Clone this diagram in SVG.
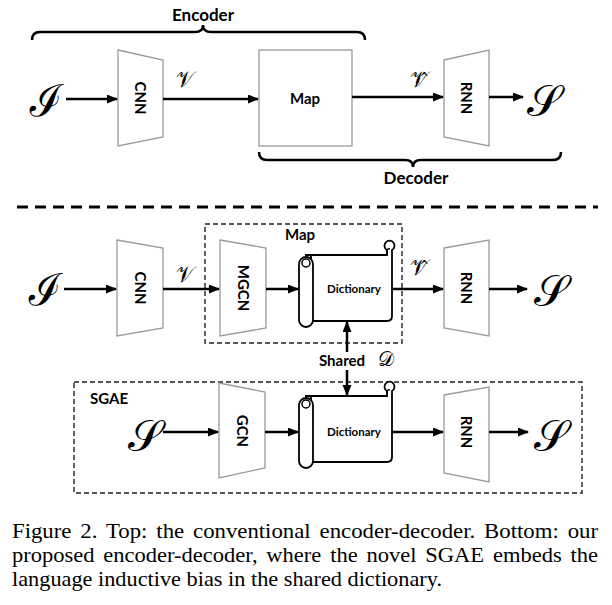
<svg xmlns="http://www.w3.org/2000/svg" xmlns:xlink="http://www.w3.org/1999/xlink" width="612" height="605" viewBox="0 0 612 605">
<style>
.lbl{font-family:Lato,"Open Sans","Liberation Sans",sans-serif;font-weight:bold;fill:#000}
.math{font-family:"DejaVu Serif","Noto Sans","DejaVu Sans",serif;fill:#000}
.cap{font-family:"Liberation Serif","Times New Roman",serif;font-size:21px;fill:#000}
.trap{fill:#fff;stroke:#9a9a9a;stroke-width:1.3}
.box{fill:#fff;stroke:#9a9a9a;stroke-width:1.3}
.arr{stroke:#000;stroke-width:2.5;fill:none;marker-end:url(#ah)}
.brace{stroke:#000;stroke-width:2.5;fill:none}
.dash{fill:none;stroke:#222;stroke-width:1.4;stroke-dasharray:5 3}
.scr{fill:#fff;stroke:#000;stroke-width:1.8}
</style>
<defs>
<marker id="ah" markerUnits="userSpaceOnUse" markerWidth="11" markerHeight="10" refX="10" refY="4.5" orient="auto">
<path d="M0,0 L11,4.5 L0,9 z" fill="#000"/>
</marker>
<g id="scroll">
<path class="scr" d="M6,0 H88 V-5 A5,5 0 1,1 93,-5 V61 Q93,66 88,66 H12 V0 Z"/>
<path d="M88,0 V-5 A2.5,2.5 0 0,1 91,-6" fill="none" stroke="#000" stroke-width="1.5"/>
<rect class="scr" x="0" y="2" width="14" height="70" rx="7"/>
<circle cx="7" cy="8" r="4" fill="#fff" stroke="#000" stroke-width="1.5"/>
</g>
</defs>
<rect width="612" height="605" fill="#fff"/>

<!-- Top section -->
<text class="lbl" x="203" y="21" font-size="17" text-anchor="middle">Encoder</text>
<path class="brace" d="M32,40 Q32,32 40,32 H195 Q203,32 203,25 Q203,32 211,32 H357 Q365,32 365,40"/>
<text class="lbl" x="416" y="184" font-size="17" text-anchor="middle">Decoder</text>
<path class="brace" d="M259,152 Q259,160 267,160 H405 Q413,160 413,167 Q413,160 421,160 H553 Q561,160 561,152"/>

<g id="top-I"><text class="math" x="46" y="116" font-size="44" font-style="italic" text-anchor="middle">ℐ</text></g>
<g id="top-cnn"><path class="trap" d="M118,50 L163,60 L163,137 L118,146 Z"/><text class="lbl" font-size="15" text-anchor="middle" transform="translate(135,98) rotate(90)">CNN</text></g>
<g id="top-map"><rect class="box" x="259" y="50" width="93" height="96"/><text class="lbl" x="305" y="104" font-size="15" text-anchor="middle">Map</text></g>
<g id="top-rnn"><path class="trap" d="M444,60 L489,50 L489,146 L444,137 Z"/><text class="lbl" font-size="15" text-anchor="middle" transform="translate(461,98) rotate(90)">RNN</text></g>
<g id="top-S"><text class="math" x="544" y="116" font-size="44" text-anchor="middle">𝒮</text></g>
<text class="math" x="185" y="87" font-size="22" text-anchor="middle">𝒱</text>
<text class="math" x="419" y="87" font-size="22" text-anchor="middle">𝒱̂</text>

<line x1="17" y1="207" x2="598" y2="207" stroke="#000" stroke-width="3" stroke-dasharray="11 7"/>

<!-- Bottom section -->
<g id="map-group"><rect class="dash" x="205" y="224" width="197" height="119"/><text class="lbl" x="300" y="240" font-size="15" text-anchor="middle">Map</text></g>
<g id="sgae-group"><rect class="dash" x="74" y="382" width="508" height="111"/><text class="lbl" x="90" y="404" font-size="15">SGAE</text></g>

<g id="b-I"><text class="math" x="45" y="305" font-size="44" font-style="italic" text-anchor="middle">ℐ</text></g>
<g id="b-cnn"><path class="trap" d="M117,240 L163,248 L163,328 L117,336 Z"/><text class="lbl" font-size="15" text-anchor="middle" transform="translate(135,288) rotate(90)">CNN</text></g>
<text class="math" x="185" y="282" font-size="22" text-anchor="middle">𝒱</text>
<g id="b-mgcn"><path class="trap" d="M220,240 L266,248 L266,328 L220,336 Z"/><text class="lbl" font-size="15" text-anchor="middle" transform="translate(238,288) rotate(90)">MGCN</text></g>
<g id="b-dict"><use xlink:href="#scroll" x="299" y="255"/><text class="lbl" x="354" y="293" font-size="11.5" text-anchor="middle">Dictionary</text></g>
<text class="math" x="419" y="275" font-size="22" text-anchor="middle">𝒱̂</text>
<g id="b-rnn"><path class="trap" d="M444,248 L489,240 L489,336 L444,328 Z"/><text class="lbl" font-size="15" text-anchor="middle" transform="translate(461,288) rotate(90)">RNN</text></g>
<g id="b-S"><text class="math" x="551" y="306" font-size="44" text-anchor="middle">𝒮</text></g>

<g id="shared"><text class="lbl" x="319" y="366" font-size="15">Shared</text><text class="math" x="386" y="366" font-size="20" text-anchor="middle">𝒟</text></g>

<g id="s-S"><text class="math" x="145" y="451" font-size="44" text-anchor="middle">𝒮</text></g>
<g id="s-gcn"><path class="trap" d="M219,383 L265,392 L265,468 L219,478 Z"/><text class="lbl" font-size="15" text-anchor="middle" transform="translate(237,431) rotate(90)">GCN</text></g>
<g id="s-dict"><use xlink:href="#scroll" x="299" y="396"/><text class="lbl" x="354" y="436" font-size="11.5" text-anchor="middle">Dictionary</text></g>
<g id="s-rnn"><path class="trap" d="M444,395 L489,387 L489,482 L444,473 Z"/><text class="lbl" font-size="15" text-anchor="middle" transform="translate(461,432) rotate(90)">RNN</text></g>
<g id="s-S2"><text class="math" x="551" y="451" font-size="44" text-anchor="middle">𝒮</text></g>

<g id="connectors">
<line class="arr" x1="66" y1="99" x2="117" y2="99"/>
<line class="arr" x1="163" y1="99" x2="258" y2="99"/>
<line class="arr" x1="352" y1="97" x2="443" y2="97"/>
<line class="arr" x1="489" y1="97" x2="523" y2="97"/>
<line class="arr" x1="64" y1="289" x2="116" y2="289"/>
<line class="arr" x1="163" y1="289" x2="219" y2="289"/>
<line class="arr" x1="266" y1="289" x2="298" y2="289"/>
<line class="arr" x1="393" y1="289" x2="443" y2="289"/>
<line class="arr" x1="489" y1="289" x2="527" y2="289"/>
<line class="arr" x1="347" y1="352" x2="347" y2="322"/>
<line class="arr" x1="347" y1="370" x2="347" y2="395"/>
<line class="arr" x1="163" y1="432" x2="218" y2="432"/>
<line class="arr" x1="265" y1="432" x2="298" y2="432"/>
<line class="arr" x1="393" y1="432" x2="443" y2="432"/>
<line class="arr" x1="489" y1="432" x2="528" y2="432"/>
</g>

<text class="cap" x="12" y="538" word-spacing="3" textLength="586" lengthAdjust="spacingAndGlyphs">Figure 2. Top: the conventional encoder-decoder. Bottom: our</text>
<text class="cap" x="12" y="562" word-spacing="3" textLength="586" lengthAdjust="spacingAndGlyphs">proposed encoder-decoder, where the novel SGAE embeds the</text>
<text class="cap" x="12" y="586" textLength="430" lengthAdjust="spacingAndGlyphs">language inductive bias in the shared dictionary.</text>
</svg>
